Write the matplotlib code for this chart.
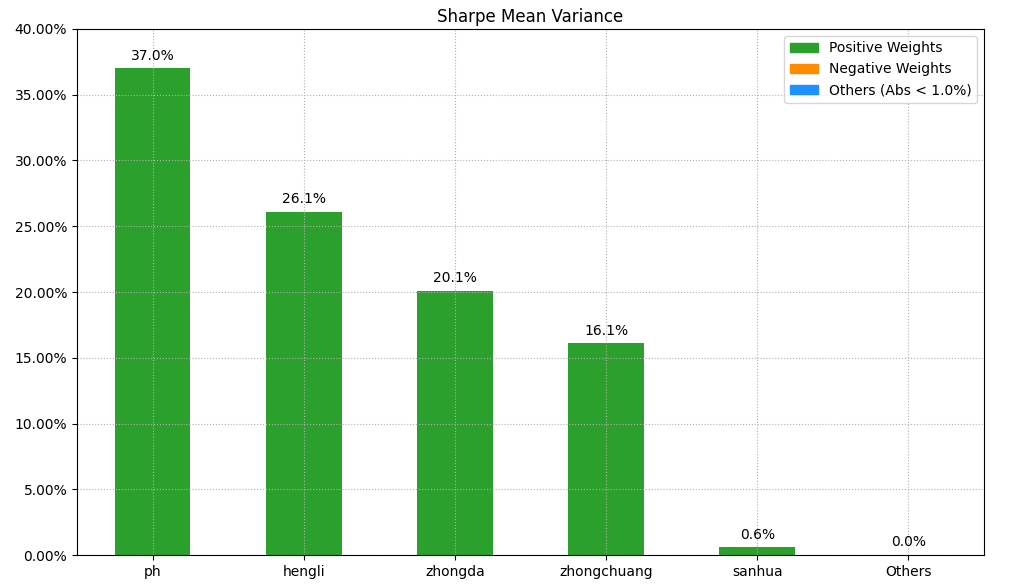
import numpy as np
import matplotlib
matplotlib.use("Agg")
import matplotlib.pyplot as plt
from matplotlib.patches import Patch
from matplotlib.ticker import PercentFormatter

# данные
names = ["ph", "hengli", "zhongda", "zhongchuang", "sanhua", "Others"]
weights = [0.370, 0.261, 0.201, 0.161, 0.006, 0.0]
labels = ["37.0%", "26.1%", "20.1%", "16.1%", "0.6%", "0.0%"]

pos_color = "#2ca02c"
neg_color = "#ff8c00"
oth_color = "#1e90ff"

colors = []
for n, w in zip(names, weights):
    if n == "Others":
        colors.append(oth_color)
    elif w >= 0:
        colors.append(pos_color)
    else:
        colors.append(neg_color)

fig = plt.figure(figsize=(10.09, 5.88), dpi=100)
ax = fig.add_axes([0.0763, 0.0561, 0.8989, 0.8946])

x = np.arange(len(names))
ax.bar(x, weights, width=0.5, color=colors)

for xi, w, lab in zip(x, weights, labels):
    ax.text(xi, w + 0.0042, lab, ha="center", va="bottom", fontsize=10)

ax.set_xticks(x)
ax.set_xticklabels(names)
ax.set_xlim(-0.5, len(names) - 0.5)
ax.set_ylim(0, 0.4)
ax.set_yticks(np.arange(0, 0.401, 0.05))
ax.yaxis.set_major_formatter(PercentFormatter(1.0, decimals=2))
ax.grid(True, linestyle=":", color="#b0b0b0", linewidth=0.8)
ax.set_axisbelow(False)
for sp in ax.spines.values():
    sp.set_zorder(5)
ax.set_title("Sharpe Mean Variance", pad=5)

handles = [Patch(color=pos_color, label="Positive Weights"),
           Patch(color=neg_color, label="Negative Weights"),
           Patch(color=oth_color, label="Others (Abs < 1.0%)")]
ax.legend(handles=handles, loc="upper right")

fig.savefig("out.png", dpi=100)
